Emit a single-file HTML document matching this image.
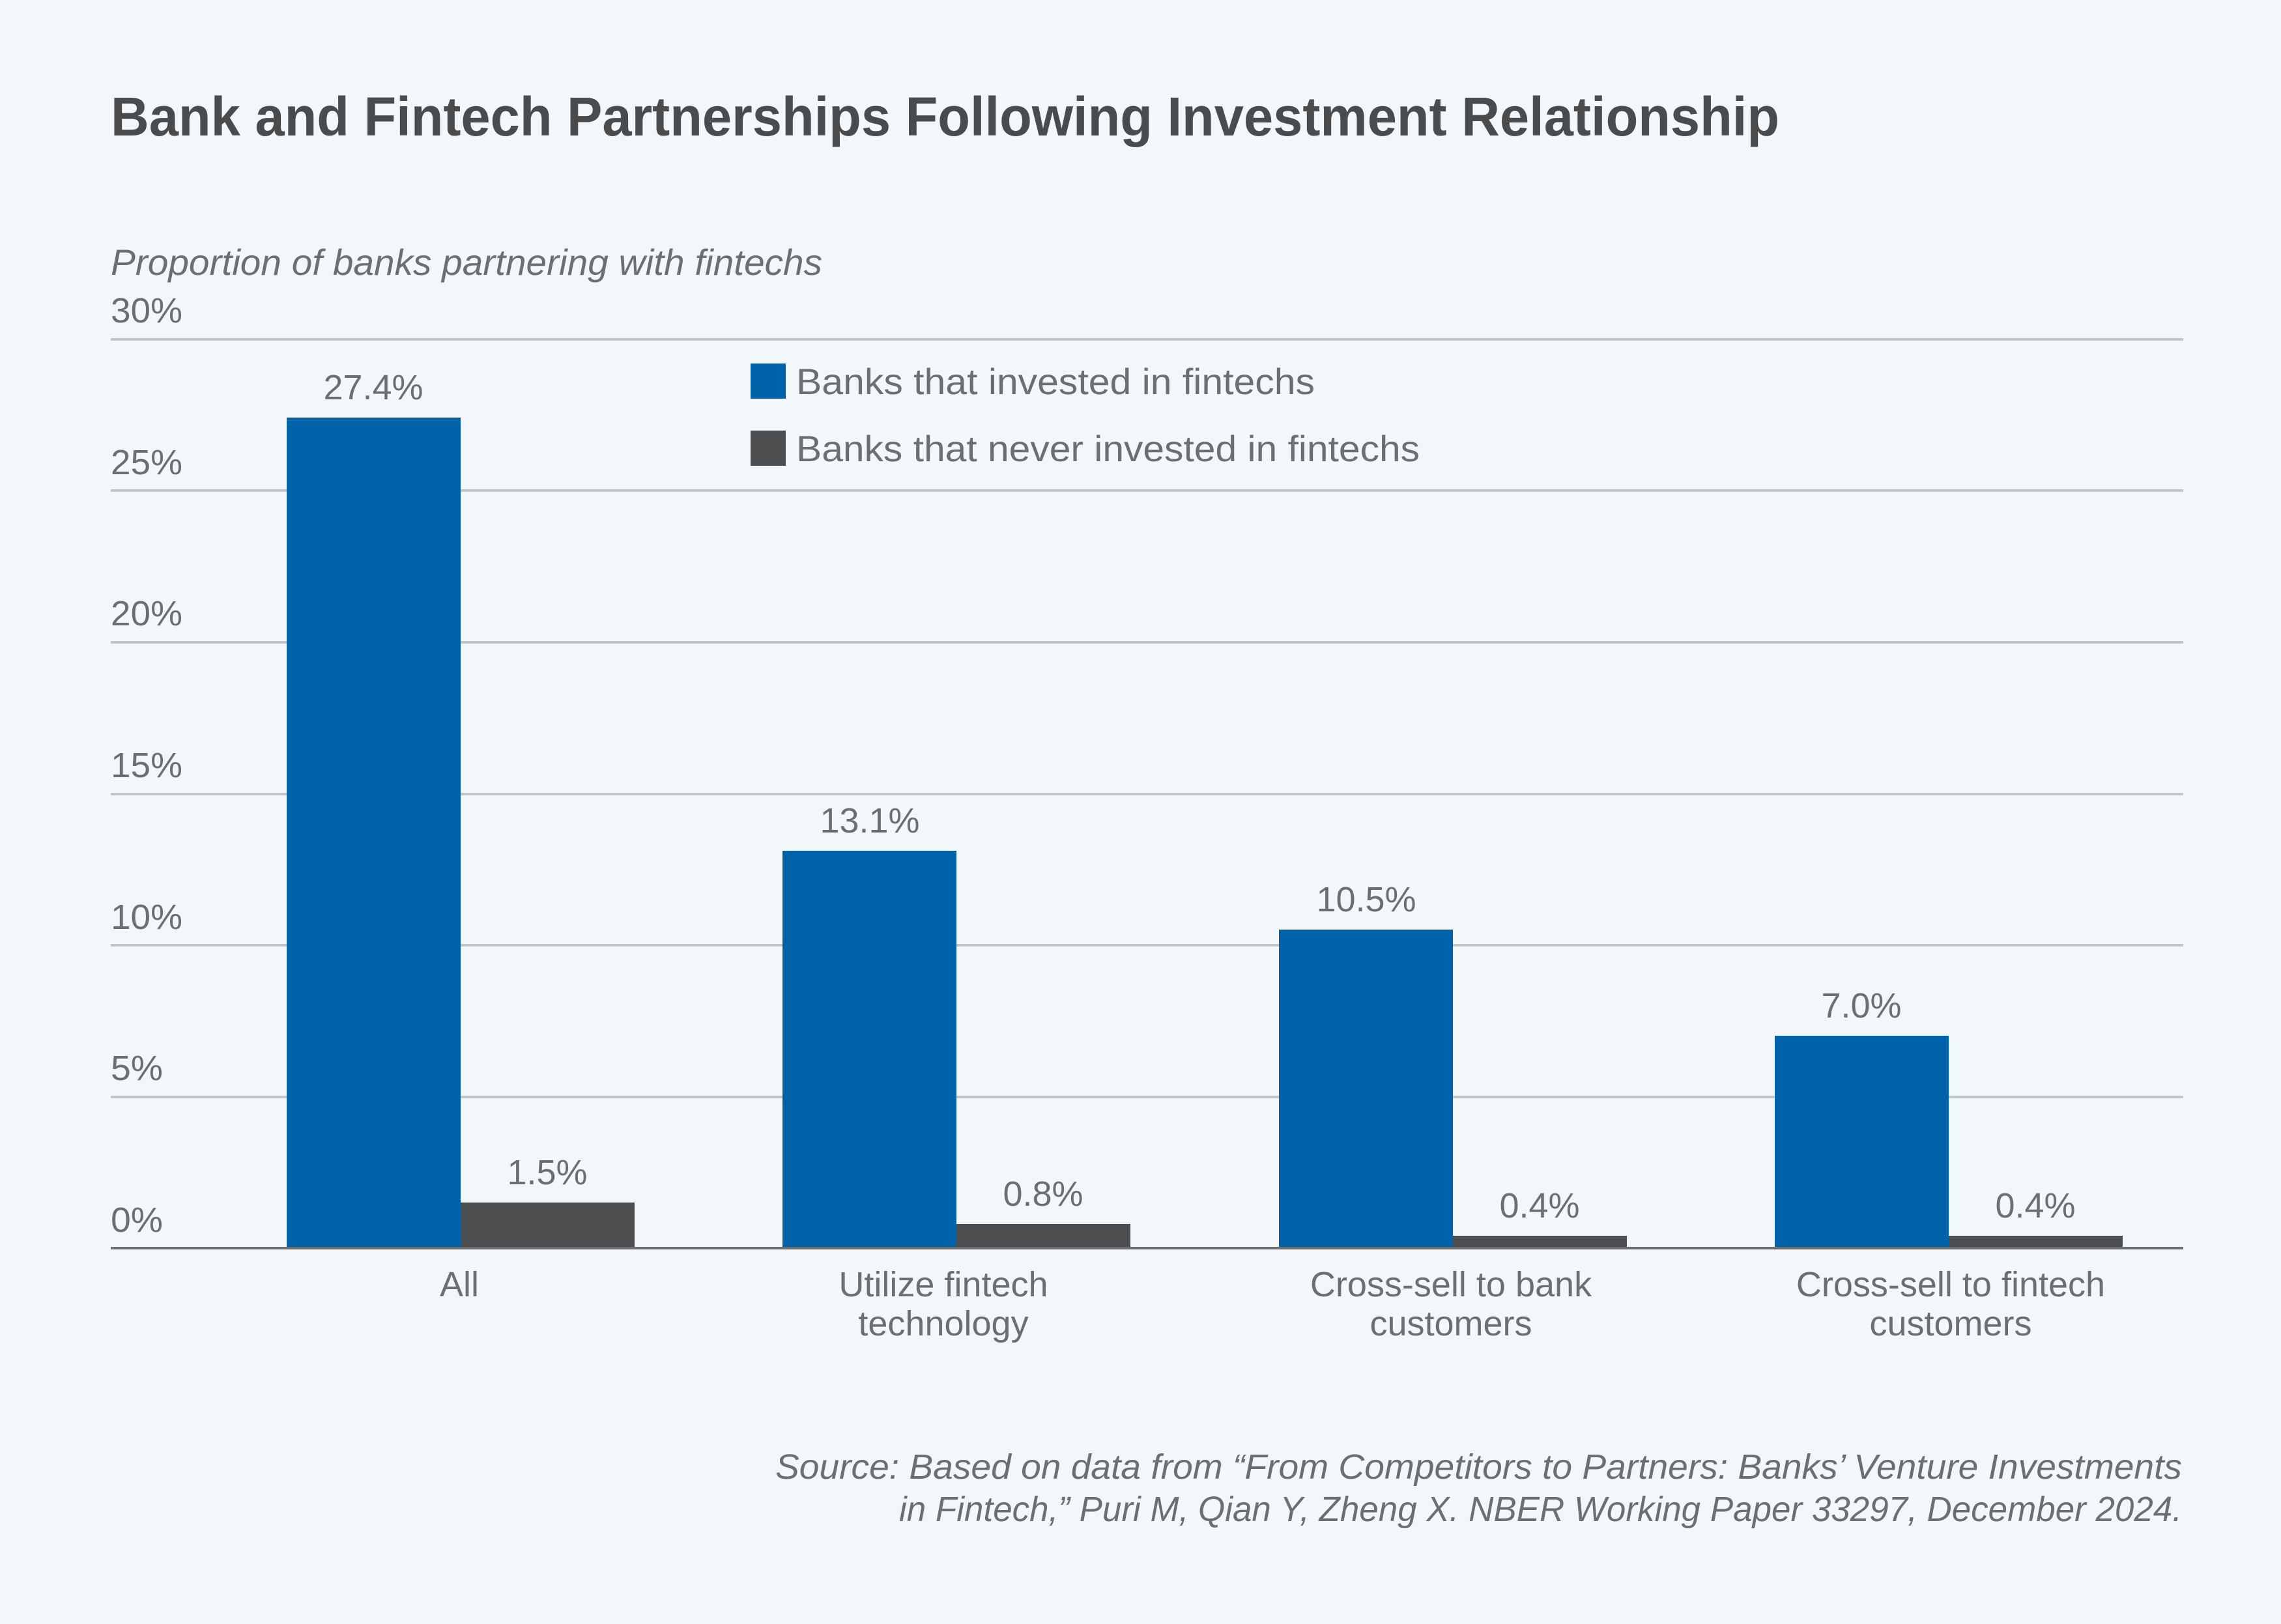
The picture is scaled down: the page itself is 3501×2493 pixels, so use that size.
<!DOCTYPE html>
<html><head><meta charset="utf-8"><style>
html,body{margin:0;padding:0;background:#f2f7fb;}
svg{display:block;}
text{font-family:"Liberation Sans",sans-serif;}
</style></head><body>
<svg width="3501" height="2493" viewBox="0 0 3501 2493" xmlns="http://www.w3.org/2000/svg">
<rect width="3501" height="2493" fill="#f2f7fb"/>
<text x="170" y="208" font-size="84" font-weight="bold" fill="#4a4b4d" textLength="2561" lengthAdjust="spacingAndGlyphs">Bank and Fintech Partnerships Following Investment Relationship</text>
<text x="170" y="422" font-size="56" font-style="italic" fill="#6d6e71" textLength="1092" lengthAdjust="spacingAndGlyphs">Proportion of banks partnering with fintechs</text>
<g stroke="#c3c6ca" stroke-width="4">
<line x1="170" x2="3351" y1="521" y2="521"/>
<line x1="170" x2="3351" y1="753" y2="753"/>
<line x1="170" x2="3351" y1="986" y2="986"/>
<line x1="170" x2="3351" y1="1219" y2="1219"/>
<line x1="170" x2="3351" y1="1451" y2="1451"/>
<line x1="170" x2="3351" y1="1684" y2="1684"/>
</g>
<g font-size="54" fill="#6d6e71">
<text x="170" y="495" textLength="110" lengthAdjust="spacingAndGlyphs">30%</text>
<text x="170" y="728" textLength="110" lengthAdjust="spacingAndGlyphs">25%</text>
<text x="170" y="960" textLength="110" lengthAdjust="spacingAndGlyphs">20%</text>
<text x="170" y="1193" textLength="110" lengthAdjust="spacingAndGlyphs">15%</text>
<text x="170" y="1426" textLength="110" lengthAdjust="spacingAndGlyphs">10%</text>
<text x="170" y="1658" textLength="80" lengthAdjust="spacingAndGlyphs">5%</text>
<text x="170" y="1891" textLength="80" lengthAdjust="spacingAndGlyphs">0%</text>
</g>
<g fill="#0062a8">
<rect x="440" y="641" width="267" height="1275"/>
<rect x="1201" y="1306" width="267" height="610"/>
<rect x="1963" y="1427" width="267" height="489"/>
<rect x="2724" y="1590" width="267" height="326"/>
</g>
<g fill="#4d4e50">
<rect x="707" y="1846" width="267" height="70"/>
<rect x="1468" y="1879" width="267" height="37"/>
<rect x="2230" y="1897" width="267" height="19"/>
<rect x="2991" y="1897" width="267" height="19"/>
</g>
<line x1="170" x2="3351" y1="1916" y2="1916" stroke="#6d6e71" stroke-width="4"/>
<g font-size="54" fill="#6d6e71" text-anchor="middle">
<text x="573" y="613">27.4%</text>
<text x="840" y="1818">1.5%</text>
<text x="1335" y="1278">13.1%</text>
<text x="1601" y="1851">0.8%</text>
<text x="2097" y="1399">10.5%</text>
<text x="2363" y="1869">0.4%</text>
<text x="2857" y="1562">7.0%</text>
<text x="3124" y="1869">0.4%</text>
<text x="705" y="1990">All</text>
<text x="1448" y="1990">Utilize fintech</text>
<text x="1448" y="2050">technology</text>
<text x="2227" y="1990">Cross-sell to bank</text>
<text x="2227" y="2050">customers</text>
<text x="2994" y="1990">Cross-sell to fintech</text>
<text x="2994" y="2050">customers</text>
</g>
<rect x="1152" y="558" width="54" height="54" fill="#0062a8"/>
<rect x="1152" y="661" width="54" height="54" fill="#4d4e50"/>
<g font-size="56" fill="#6d6e71">
<text x="1222" y="605" textLength="796" lengthAdjust="spacingAndGlyphs">Banks that invested in fintechs</text>
<text x="1222" y="708" textLength="957" lengthAdjust="spacingAndGlyphs">Banks that never invested in fintechs</text>
</g>
<g font-size="54" font-style="italic" fill="#6d6e71" text-anchor="end">
<text x="3349" y="2270" textLength="2159" lengthAdjust="spacingAndGlyphs">Source: Based on data from “From Competitors to Partners: Banks’ Venture Investments</text>
<text x="3349" y="2335" textLength="1969" lengthAdjust="spacingAndGlyphs">in Fintech,” Puri M, Qian Y, Zheng X. NBER Working Paper 33297, December 2024.</text>
</g>
</svg>
</body></html>
